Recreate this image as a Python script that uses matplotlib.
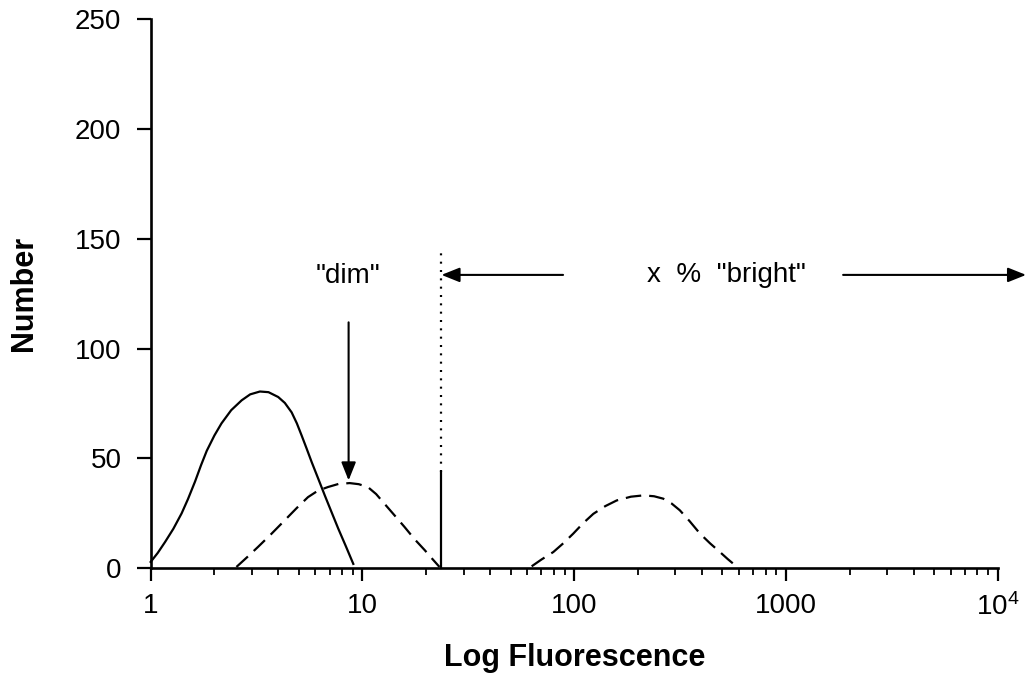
import matplotlib
matplotlib.use("Agg")
import matplotlib.pyplot as plt
from matplotlib.ticker import FixedLocator, FixedFormatter, LogLocator, NullFormatter

plt.rcParams["font.family"] = ["Liberation Sans", "DejaVu Sans"]
plt.rcParams["mathtext.default"] = "regular"

# Control (unstained) histogram
control_x = [1.0, 1.08, 1.17, 1.28, 1.40, 1.50, 1.62, 1.73, 1.84, 2.0, 2.16, 2.4, 2.69,
             2.95, 3.28, 3.6, 4.0, 4.3, 4.63, 4.9, 5.16, 5.45, 5.76, 6.2, 6.65, 7.15,
             7.69, 8.35, 9.05]
control_y = [2.9, 7, 12, 18, 25, 31.5, 39.5, 47, 53.5, 60.5, 66, 72, 76.5,
             79.2, 80.5, 80.2, 78, 75.3, 71, 66, 60.5, 54.5, 48.3, 40.5, 33, 25.5,
             18, 10, 2]

# Stained population, "dim" peak
dim_x = [2.54, 2.85, 3.21, 3.7, 4.29, 4.9, 5.53, 6.15, 6.87, 7.7, 8.7, 9.6, 10.6,
         11.6, 12.7, 14.2, 15.8, 17.6, 19.7, 21.4, 23.1]
dim_y = [0.6, 5, 9.7, 15.5, 21.8, 27.5, 32.4, 35.3, 37, 38.4, 38.8, 38.3, 37,
         33.8, 29.4, 24, 18.8, 13.3, 8.2, 4.2, 0.6]

# Stained population, "bright" peak
bright_x = [62.9, 70, 79.6, 89, 98.9, 110, 123, 140, 158.6, 185, 212, 238, 263,
            288, 315, 350, 392, 437, 487, 530, 574]
bright_y = [0.9, 4, 7.4, 11.5, 15.8, 20.5, 24.8, 28.3, 30.9, 32.6, 33.2, 32.8, 31.7,
            29.5, 26.4, 21.5, 15.8, 11.4, 7.4, 4.2, 1.4]

# Gate between dim and bright
gate_x = 23.6
gate_solid_top = 44
gate_dotted_top = 146

x_ticks = [1, 10, 100, 1000, 10000]
x_tick_labels = ["1", "10", "100", "1000", "10$^4$"]
y_ticks = [0, 50, 100, 150, 200, 250]

fig = plt.figure(figsize=(10.27, 6.89), dpi=100)
ax = fig.add_axes([0.1467, 0.1752, 0.8250, 0.7968])

ax.set_xscale("log")
ax.set_xlim(1, 10000)
ax.set_ylim(0, 250)

lw = 1.6
dash = (7.0, 3.6)
ax.plot(control_x, control_y, color="black", lw=lw, clip_on=False)
ax.plot(dim_x, dim_y, color="black", lw=lw, dashes=dash, clip_on=False)
ax.plot(bright_x, bright_y, color="black", lw=lw, dashes=dash, clip_on=False)

ax.plot([gate_x, gate_x], [0, gate_solid_top], color="black", lw=1.6, clip_on=False)
ax.plot([gate_x, gate_x], [gate_solid_top, gate_dotted_top], color="black", lw=1.6,
        linestyle=(0, (0.9, 2.85)), dash_capstyle="butt")

arrow_style = "-|>,head_length=0.55,head_width=0.22"
arrow_props = dict(arrowstyle=arrow_style, mutation_scale=20, color="black", lw=1.5,
                   shrinkA=0, shrinkB=0)

# "dim" label and arrow
ax.text(8.55, 133, '"dim"', ha="center", va="center", fontsize=20)
ax.annotate("", xy=(8.6, 40), xytext=(8.6, 112), arrowprops=arrow_props)

# "bright" label and range arrows
ax.text(520, 133.6, 'x  %  "bright"', ha="center", va="center", fontsize=20)
ax.annotate("", xy=(gate_x, 133.6), xytext=(88.5, 133.6), arrowprops=arrow_props,
            annotation_clip=False)
ax.annotate("", xy=(13580, 133.6), xytext=(1858, 133.6), arrowprops=arrow_props,
            annotation_clip=False)

for side in ("top", "right"):
    ax.spines[side].set_visible(False)
for side in ("left", "bottom"):
    ax.spines[side].set_linewidth(1.9)

ax.xaxis.set_major_locator(FixedLocator(x_ticks))
ax.xaxis.set_major_formatter(FixedFormatter(x_tick_labels))
ax.xaxis.set_minor_locator(LogLocator(base=10, subs=range(2, 10), numticks=20))
ax.xaxis.set_minor_formatter(NullFormatter())
ax.set_yticks(y_ticks)

ax.tick_params(axis="x", which="major", direction="out", length=9, width=1.6,
               labelsize=20, pad=9)
ax.tick_params(axis="x", which="minor", direction="out", length=5, width=1.3)
ax.tick_params(axis="y", which="major", direction="out", length=10, width=1.6,
               labelsize=20, pad=11)

ax.set_xlabel("Log Fluorescence", fontsize=22, fontweight="bold", labelpad=16)
ax.set_ylabel("Number", fontsize=22, fontweight="bold", labelpad=26)

fig.savefig("out.png", dpi=100)
